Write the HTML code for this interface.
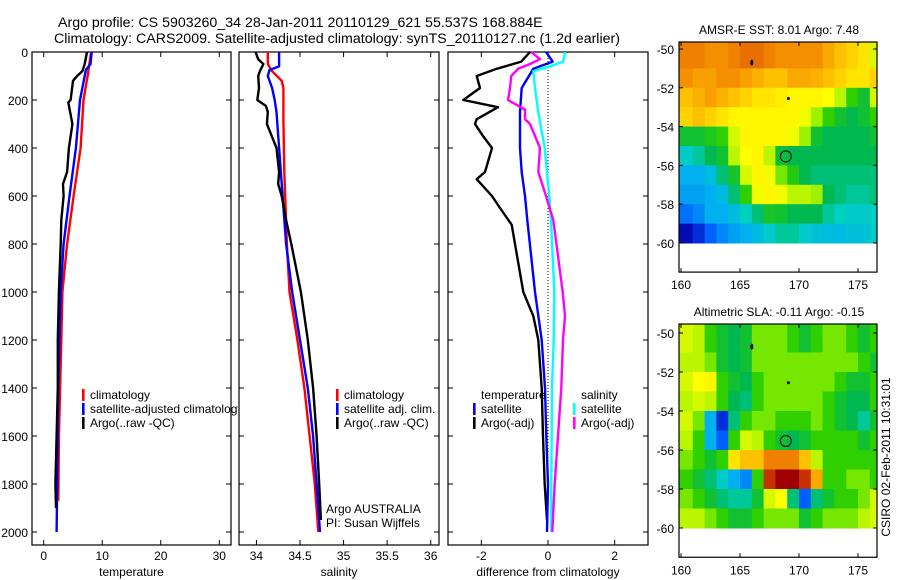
<!DOCTYPE html>
<html><head><meta charset="utf-8"><style>
html,body{margin:0;padding:0;background:#fff;}
svg{display:block;font-family:"Liberation Sans",sans-serif;}
</style></head><body>
<svg id="c" width="900" height="580" viewBox="0 0 900 580" xmlns="http://www.w3.org/2000/svg">
<defs>
<clipPath id="clipMap"><rect x="679" y="0" width="198" height="580"/></clipPath>
<clipPath id="clipP1"><rect x="0" y="0" width="238" height="580"/></clipPath>
</defs>
<text x="58" y="27" font-size="14.2">Argo profile: CS 5903260_34 28-Jan-2011 20110129_621 55.537S 168.884E</text>
<text x="54" y="43" font-size="14.2">Climatology: CARS2009. Satellite-adjusted climatology: synTS_20110127.nc (1.2d earlier)</text>
<text x="779" y="34" font-size="12" text-anchor="middle">AMSR-E SST: 8.01 Argo: 7.48</text>
<text x="779" y="316" font-size="12" text-anchor="middle">Altimetric SLA: -0.11 Argo: -0.15</text>
<text transform="translate(890,457) rotate(-90)" font-size="12" text-anchor="middle">CSIRO 02-Feb-2011 10:31:01</text>
<g id="g"></g>
</svg>
<script>
// ---------- data ----------
const depthTicks=[0,200,400,600,800,1000,1200,1400,1600,1800,2000];
const tempTicks=[0,10,20,30];
const salTicks=[34,34.5,35,35.5,36];
const salTickLabels=["34","34.5","35","35.5","36"];
const diffTicks=[-2,0,2];
const lonTicks=[160,165,170,175];
const latTicks=[-50,-52,-54,-56,-58,-60];

const tClimDepth=[0,100,200,400,600,800,1000,1200,1400,1600,1870];
const tClim=[8.1,7.5,6.8,6.3,5.1,4.0,3.2,3.0,2.8,2.6,2.5];
const tSatDepth=[0,50,75,100,200,400,600,800,1000,1200,1400,1600,1800,2000];
const tSat=[8.2,8.0,7.2,7.0,6.2,5.5,4.4,3.4,2.9,2.7,2.5,2.4,2.3,2.2];
const tArgoDepth=[0,50,80,100,120,200,210,300,400,500,550,600,700,800,1000,1200,1400,1600,1800,1900];
const tArgo=[7.4,7.0,6.6,5.7,5.0,4.6,4.2,4.9,4.3,4.0,3.3,3.4,3.0,2.9,2.6,2.4,2.4,2.2,2.0,2.1];

const sClimDepth=[0,50,80,120,150,280,500,800,1000,1200,1400,1600,1800,2000];
const sClim=[34.13,34.13,34.18,34.29,34.31,34.31,34.32,34.35,34.38,34.47,34.55,34.61,34.67,34.71];
const sSatDepth=[0,60,75,100,150,200,250,400,600,800,1000,1200,1400,1600,1800,2000];
const sSat=[34.26,34.26,34.15,34.13,34.18,34.21,34.23,34.26,34.30,34.34,34.41,34.50,34.59,34.65,34.69,34.73];
const sArgoDepth=[0,30,50,80,100,150,200,225,250,300,400,500,550,600,700,800,1000,1200,1400,1600,1800,1950];
const sArgo=[33.99,34.02,34.08,34.04,34.02,34.03,34.01,34.11,34.13,34.12,34.23,34.26,34.25,34.29,34.34,34.40,34.51,34.59,34.65,34.69,34.72,34.74];

const dTSatDepth=[0,40,70,150,250,400,500,600,700,1000,1200,1400,1600,1800,2000];
const dTSat=[-0.06,0.14,-0.44,-0.79,-0.84,-0.84,-0.79,-0.69,-0.62,-0.39,-0.19,-0.09,-0.05,0,-0.03];
const dTArgoDepth=[0,40,70,100,150,200,230,280,300,350,400,500,530,600,650,720,1000,1100,1200,1400,1600,1800,1950];
const dTArgo=[-0.54,-0.8,-1.54,-2.14,-2.04,-2.54,-1.5,-2.14,-2.19,-1.95,-1.68,-1.89,-2.14,-1.68,-1.44,-1.09,-0.74,-0.44,-0.29,-0.19,-0.15,-0.1,-0.03];
const dSSatDepth=[0,40,60,80,150,250,400,600,700,1000,1200,1400,1600,1800,2000];
const dSSat=[0.51,0.46,0.06,-0.44,-0.39,-0.29,-0.1,0.04,0.09,0.19,0.17,0.12,0.11,0.1,0.1];
const dSArgoDepth=[0,30,50,70,100,150,200,240,280,300,400,500,600,700,1000,1100,1200,1400,1600,1800,2000];
const dSArgo=[-0.5,-0.24,-0.54,-0.9,-1.1,-1.14,-1.2,-0.69,-0.69,-0.54,-0.24,-0.29,-0.06,0.16,0.44,0.51,0.45,0.4,0.3,0.2,0.13];

const mapLons=[160,161,162,163,164,165,166,167,168,169,170,171,172,173,174,175,176,177];
const mapLats=[-50,-51,-52,-53,-54,-55,-56,-57,-58,-59];
const sstGrid=[
[0.8,0.8,0.78,0.78,0.8,0.82,0.82,0.8,0.78,0.78,0.78,0.78,0.75,0.72,0.7,0.68,0.62,0.7],
[0.78,0.76,0.76,0.78,0.78,0.76,0.74,0.72,0.72,0.75,0.75,0.74,0.72,0.7,0.68,0.68,0.7,0.7],
[0.72,0.74,0.76,0.74,0.72,0.7,0.68,0.68,0.67,0.66,0.66,0.66,0.65,0.6,0.5,0.45,0.62,0.66],
[0.7,0.72,0.7,0.68,0.66,0.66,0.66,0.66,0.66,0.66,0.64,0.58,0.5,0.45,0.42,0.45,0.5,0.6],
[0.45,0.45,0.47,0.5,0.62,0.66,0.66,0.66,0.66,0.64,0.58,0.45,0.42,0.42,0.42,0.42,0.45,0.5],
[0.35,0.38,0.42,0.45,0.6,0.65,0.66,0.6,0.44,0.42,0.42,0.42,0.42,0.42,0.42,0.42,0.42,0.42],
[0.3,0.3,0.32,0.4,0.46,0.62,0.66,0.64,0.55,0.48,0.42,0.4,0.4,0.4,0.4,0.4,0.4,0.4],
[0.28,0.28,0.3,0.32,0.4,0.5,0.64,0.66,0.64,0.6,0.6,0.58,0.42,0.4,0.38,0.38,0.4,0.4],
[0.22,0.25,0.3,0.3,0.32,0.36,0.4,0.46,0.45,0.42,0.42,0.42,0.38,0.36,0.35,0.35,0.36,0.36],
[0.1,0.15,0.2,0.25,0.28,0.3,0.32,0.35,0.38,0.38,0.35,0.33,0.32,0.32,0.33,0.33,0.35,0.35]];
const slaGrid=[
[0.62,0.6,0.5,0.45,0.42,0.45,0.55,0.55,0.55,0.5,0.45,0.5,0.55,0.55,0.5,0.45,0.5,0.55],
[0.6,0.6,0.55,0.45,0.42,0.45,0.55,0.55,0.55,0.55,0.55,0.55,0.55,0.55,0.55,0.5,0.45,0.55],
[0.62,0.65,0.66,0.5,0.45,0.42,0.5,0.55,0.55,0.55,0.55,0.55,0.55,0.5,0.45,0.45,0.5,0.62],
[0.6,0.62,0.6,0.5,0.42,0.4,0.5,0.55,0.55,0.55,0.55,0.55,0.5,0.45,0.42,0.42,0.5,0.6],
[0.62,0.55,0.3,0.15,0.4,0.5,0.55,0.55,0.5,0.5,0.5,0.55,0.5,0.45,0.42,0.38,0.45,0.55],
[0.6,0.5,0.3,0.2,0.5,0.62,0.6,0.5,0.45,0.42,0.45,0.5,0.5,0.5,0.5,0.45,0.5,0.55],
[0.55,0.5,0.45,0.5,0.68,0.72,0.72,0.8,0.8,0.8,0.72,0.6,0.5,0.5,0.5,0.5,0.5,0.55],
[0.5,0.45,0.4,0.35,0.3,0.25,0.5,0.9,0.97,0.97,0.9,0.75,0.5,0.5,0.55,0.55,0.5,0.55],
[0.55,0.5,0.45,0.4,0.38,0.38,0.45,0.62,0.65,0.4,0.2,0.4,0.45,0.5,0.5,0.55,0.62,0.55],
[0.6,0.6,0.55,0.5,0.45,0.45,0.5,0.55,0.55,0.55,0.45,0.5,0.55,0.55,0.55,0.6,0.62,0.55]];
const islandLons=[166,169.1];
const islandLats=[-50.7,-52.55];
const argoLon=168.884, argoLat=-55.537;

// ---------- drawing ----------
const NS="http://www.w3.org/2000/svg";
const G=document.getElementById('g');
function mk(tag,attrs,parent){const e=document.createElementNS(NS,tag);for(const k in attrs)e.setAttribute(k,attrs[k]);(parent||G).appendChild(e);return e;}
const yTop=52,yBot=545;
const yD=d=>yTop+d*0.24;

function panel(name,x0,x1,vmin,vmax,ticks,tickLabels,xlabel,showY){
  const g=mk('g',{});
  
  
  const sx=v=>x0+(v-vmin)/(vmax-vmin)*(x1-x0);
  const fr=mk('rect',{x:x0,y:yTop,width:x1-x0,height:yBot-yTop,fill:'none',stroke:'#000','stroke-width':1.2},g);
  
  
  depthTicks.forEach(d=>{
    mk('line',{x1:x0,x2:x0+5,y1:yD(d),y2:yD(d),stroke:'#000'},g);
    mk('line',{x1:x1,x2:x1-5,y1:yD(d),y2:yD(d),stroke:'#000'},g);
    if(showY){const t=mk('text',{x:x0-4,y:yD(d)+5,'font-size':12,'text-anchor':'end'},g);t.textContent=d;
      
      }
  });
  ticks.forEach((v,i)=>{
    mk('line',{x1:sx(v),x2:sx(v),y1:yTop,y2:yTop+5,stroke:'#000'},g);
    mk('line',{x1:sx(v),x2:sx(v),y1:yBot,y2:yBot-5,stroke:'#000'},g);
    const t=mk('text',{x:sx(v),y:yBot+15,'font-size':12,'text-anchor':'middle'},g);t.textContent=tickLabels[i];
    
    
  });
  const xl=mk('text',{x:(x0+x1)/2,y:yBot+31,'font-size':12,'text-anchor':'middle'},g);xl.textContent=xlabel;
  
  
  return {g,sx};
}
function series(p,name,depths,vals,color){
  const pts=depths.map((d,i)=>p.sx(vals[i]).toFixed(1)+','+yD(d).toFixed(1)).join(' ');
  const l=mk('polyline',{points:pts,fill:'none',stroke:color,'stroke-width':2.4,'stroke-linejoin':'round'},p.g);
  
  
}
function legend(parent,items,x,y){
  items.forEach((it,i)=>{
    const yy=y+i*14;
    if(it[1]){const m=mk('rect',{x:x,y:yy-9,width:2.6,height:12,fill:it[1]},parent);
      
      }
    const t=mk('text',{x:x+8,y:yy+1,'font-size':12},parent);t.textContent=it[0];
    
    
  });
}

const p1=panel('temperature-panel',32,231,-2,32,tempTicks,tempTicks.map(String),'temperature',true);
series(p1,'temp-climatology-line',tClimDepth,tClim,'#ff0000');
series(p1,'temp-satellite-line',tSatDepth,tSat,'#0000ff');
series(p1,'temp-argo-line',tArgoDepth,tArgo,'#000');
const lg1=mk('g',{'clip-path':'url(#clipP1)'},p1.g);


legend(lg1,[['climatology','#ff0000'],['satellite-adjusted climatology','#0000ff'],['Argo(..raw -QC)','#000']],82,398);

const p2=panel('salinity-panel',239,439,33.8,36.095,salTicks,salTickLabels,'salinity',false);
series(p2,'sal-climatology-line',sClimDepth,sClim,'#ff0000');
series(p2,'sal-satellite-line',sSatDepth,sSat,'#0000ff');
series(p2,'sal-argo-line',sArgoDepth,sArgo,'#000');
legend(p2.g,[['climatology','#ff0000'],['satellite adj. clim.','#0000ff'],['Argo(..raw -QC)','#000']],336,398);
legend(p2.g,[['Argo AUSTRALIA',null],['PI: Susan Wijffels',null]],318,512);

const p3=panel('difference-panel',448,648,-3,3,diffTicks,diffTicks.map(String),'difference from climatology',false);
const zl=mk('line',{x1:p3.sx(0),x2:p3.sx(0),y1:yTop,y2:yD(1950),stroke:'#000','stroke-dasharray':'1,2'},p3.g);


series(p3,'diff-temp-argo-line',dTArgoDepth,dTArgo,'#000');
series(p3,'diff-temp-satellite-line',dTSatDepth,dTSat,'#0000ff');
series(p3,'diff-sal-satellite-line',dSSatDepth,dSSat,'#00ffff');
series(p3,'diff-sal-argo-line',dSArgoDepth,dSArgo,'#ff00ff');
legend(p3.g,[['temperature',null],['satellite','#0000ff'],['Argo(-adj)','#000']],473,398);
legend(p3.g,[['salinity',null],['satellite','#00ffff'],['Argo(-adj)','#ff00ff']],573,398);

const cmStops=[[0,[0,0,112]],[0.12,[0,16,192]],[0.2,[0,96,255]],[0.3,[0,176,240]],[0.36,[0,208,192]],[0.42,[0,184,80]],[0.5,[48,208,0]],[0.57,[144,240,0]],[0.65,[255,255,0]],[0.72,[255,192,0]],[0.8,[240,128,0]],[0.88,[208,64,0]],[0.97,[160,0,0]],[1,[150,0,0]]];
function cmap(v){
  for(let i=1;i<cmStops.length;i++){
    if(v<=cmStops[i][0]){const a=cmStops[i-1],b=cmStops[i],t=(v-a[0])/(b[0]-a[0]);
      const c=a[1].map((x,k)=>Math.round(x+(b[1][k]-x)*t));return `rgb(${c[0]},${c[1]},${c[2]})`;}
  }
  return 'rgb(150,0,0)';
}
function map(name,top,grid,latM50,latM60){
  const g=mk('g',{});
  
  
  const x0=679,x1=877;
  const lx=lon=>681+(lon-160)*(858-681)/15;
  const ly=lat=>latM50+(-50-lat)*(latM60-latM50)/10;
  const cg=mk('g',{'clip-path':'url(#clipMap)'},g);
  grid.forEach((row,r)=>row.forEach((v,c)=>{
    const xs=c===0?x0:lx(mapLons[c]);
    const xb=lx(mapLons[c]+1);
    const ya=r===0?top:ly(mapLats[r]),yb=ly(mapLats[r]-1);
    const cell=mk('rect',{x:xs,y:ya,width:xb-xs+0.5,height:yb-ya+0.5,fill:cmap(v)},cg);
    
    
  }));
  const bottom=latM60+(latM60-latM50)/10*1.5;
  islandLons.forEach((lo,i)=>{
    const is=mk('ellipse',{cx:lx(lo),cy:ly(islandLats[i]),rx:1.5,ry:i===0?3:1.5,fill:'#000'},g);
    
    
  });
  const ci=mk('circle',{cx:lx(argoLon),cy:ly(argoLat),r:5.5,fill:'none',stroke:'#000','stroke-width':1},g);
  
  
  const fr=mk('rect',{x:x0,y:top,width:x1-x0,height:bottom-top,fill:'none',stroke:'#000','stroke-width':1.2},g);
  
  
  latTicks.forEach(la=>{
    mk('line',{x1:x0,x2:x0+4,y1:ly(la),y2:ly(la),stroke:'#000'},g);
    mk('line',{x1:x1,x2:x1-4,y1:ly(la),y2:ly(la),stroke:'#000'},g);
    const t=mk('text',{x:x0-5,y:ly(la)+5,'font-size':12,'text-anchor':'end'},g);t.textContent=la;
    
    
  });
  lonTicks.forEach(lo=>{
    mk('line',{x1:lx(lo),x2:lx(lo),y1:top,y2:top+4,stroke:'#000'},g);
    mk('line',{x1:lx(lo),x2:lx(lo),y1:bottom,y2:bottom-4,stroke:'#000'},g);
    const t=mk('text',{x:lx(lo),y:bottom+17,'font-size':12,'text-anchor':'middle'},g);t.textContent=lo;
    
    
  });
}
map('sst-map',42,sstGrid,49,243);
map('sla-map',324,slaGrid,333,528);
</script>
</body></html>
